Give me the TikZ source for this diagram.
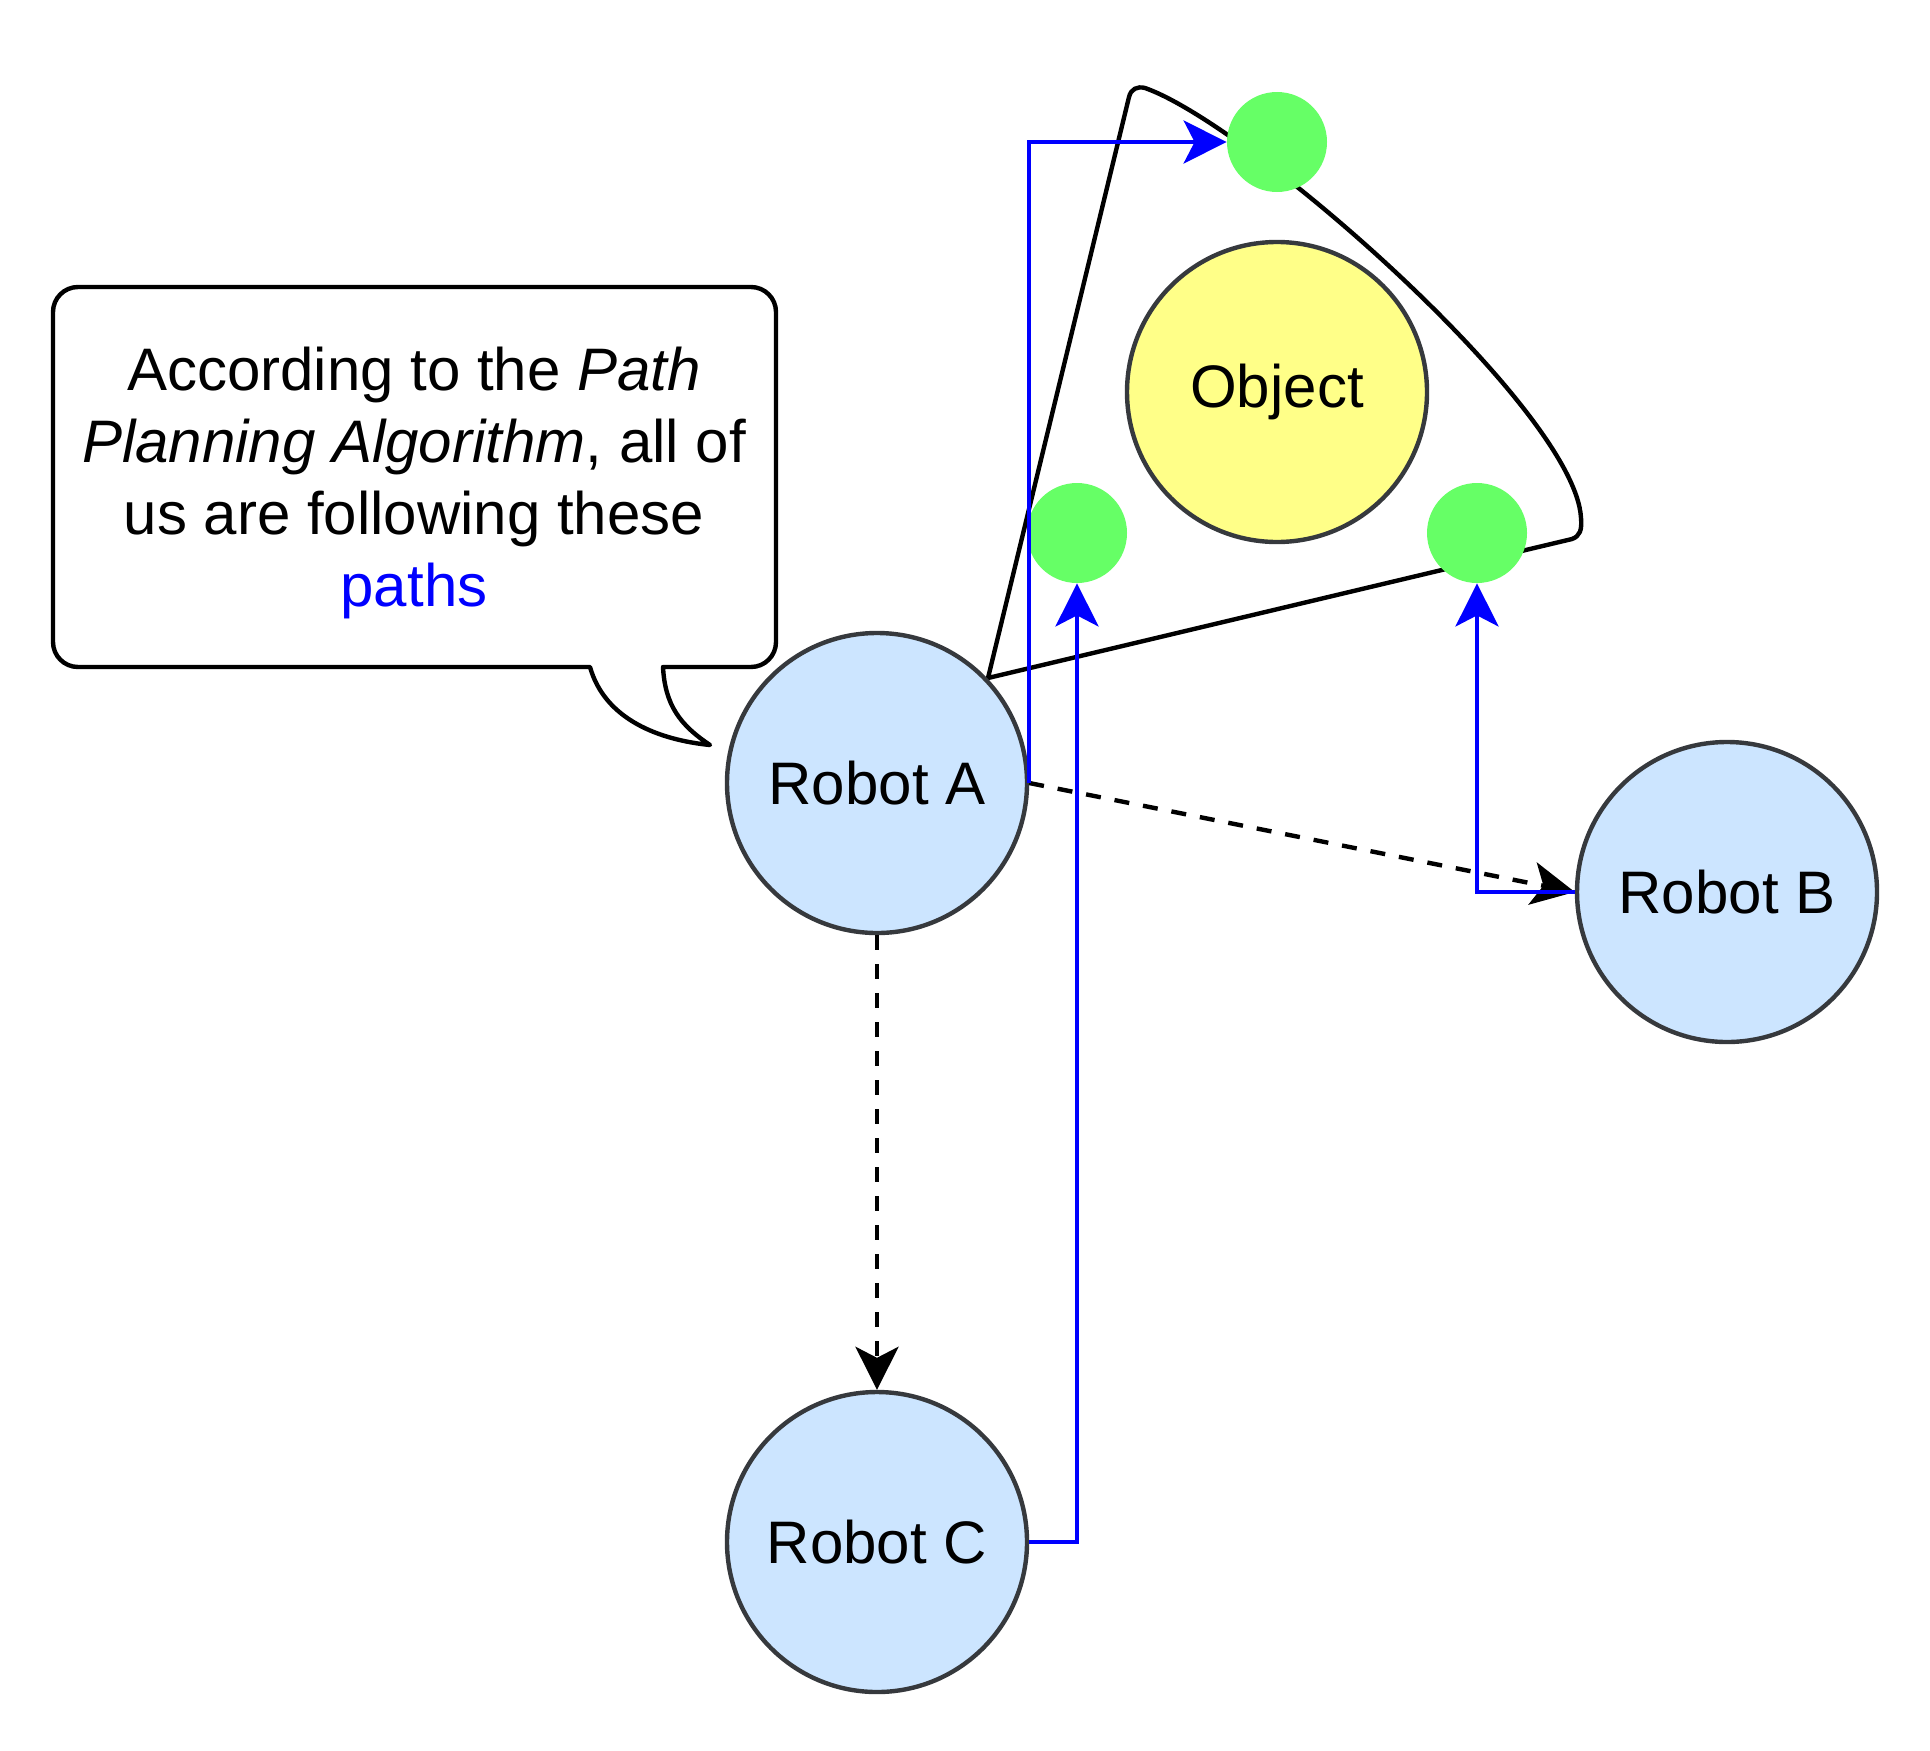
\documentclass[tikz,border=0pt]{standalone}
\usepackage{fontspec}
\setmainfont{Liberation Sans}
\usetikzlibrary{arrows.meta}
\definecolor{robotfill}{HTML}{CCE5FF}
\definecolor{edgegray}{HTML}{36393D}
\definecolor{objfill}{HTML}{FFFF88}
\definecolor{dotgreen}{HTML}{66FF66}
\definecolor{pathblue}{HTML}{0000FF}
\begin{document}
\begin{tikzpicture}[x=0.5pt,y=-0.5pt,
  txt/.style={font=\fontsize{30pt}{36pt}\selectfont},
  bigcircle/.style={circle, draw=edgegray, line width=2.2pt, minimum size=150pt, inner sep=0pt, txt},
  robot/.style={bigcircle, fill=robotfill},
  objectnode/.style={bigcircle, fill=objfill},
  dot/.style={circle, fill=dotgreen, minimum size=50pt, inner sep=0pt},
  tipstyle/.style={-{Stealth[length=21.5pt,width=21.5pt,inset=5.5pt]}},
  bluepath/.style={draw=pathblue, line width=2.2pt, tipstyle},
  dashpath/.style={draw=black, line width=2.2pt, dash pattern=on 7.5pt off 7pt, tipstyle},
  outline/.style={draw=black, line width=2.2pt, line join=round}]
\useasboundingbox (0,0) rectangle (1930,1750);

% callout
\draw[outline, fill=white] (663,667) -- (751,667) .. controls (764.8,667) and (776,655.8) .. (776,642)
  -- (776,312) .. controls (776,298.2) and (764.8,287) .. (751,287)
  -- (78,287) .. controls (64.2,287) and (53,298.2) .. (53,312)
  -- (53,642) .. controls (53,655.8) and (64.2,667) .. (78,667)
  -- (590,667) .. controls (605,720) and (660,740) .. (710,745)
  .. controls (680,725) and (665,705) .. (663,667) -- cycle;
\node[txt, align=center, inner sep=0pt] (calloutText) at (414,483)
  {According to the \textit{Path}\\\textit{Planning Algorithm}, all of\\us are following these\\\textcolor{pathblue}{paths}};

% region outline
\draw[outline] (988,678) -- (1129,97) .. controls (1131,89) and (1137,86) .. (1145,88)
  .. controls (1250,125) and (1575,410) .. (1581,518)
  .. controls (1582,530) and (1580,536) .. (1572,539) -- cycle;

% nodes
\node[robot] (A) at (877,783) {Robot A};
\node[robot] (B) at (1727,892) {Robot B};
\node[robot] (C) at (877,1542) {Robot C};
\node[objectnode] (O) at (1277,392) {Object};
\node[dot] (g1) at (1277,142) {};
\node[dot] (g2) at (1077,533) {};
\node[dot] (g3) at (1477,533) {};

% connectors
\draw[dashpath] (A.east) -- (B.west);
\draw[dashpath] (A.south) -- (C.north);
\draw[bluepath] (A.east) |- (g1.west);
\draw[bluepath] (C.east) -| (g2.south);
\draw[bluepath] (B.west) -| (g3.south);
\end{tikzpicture}
\end{document}
